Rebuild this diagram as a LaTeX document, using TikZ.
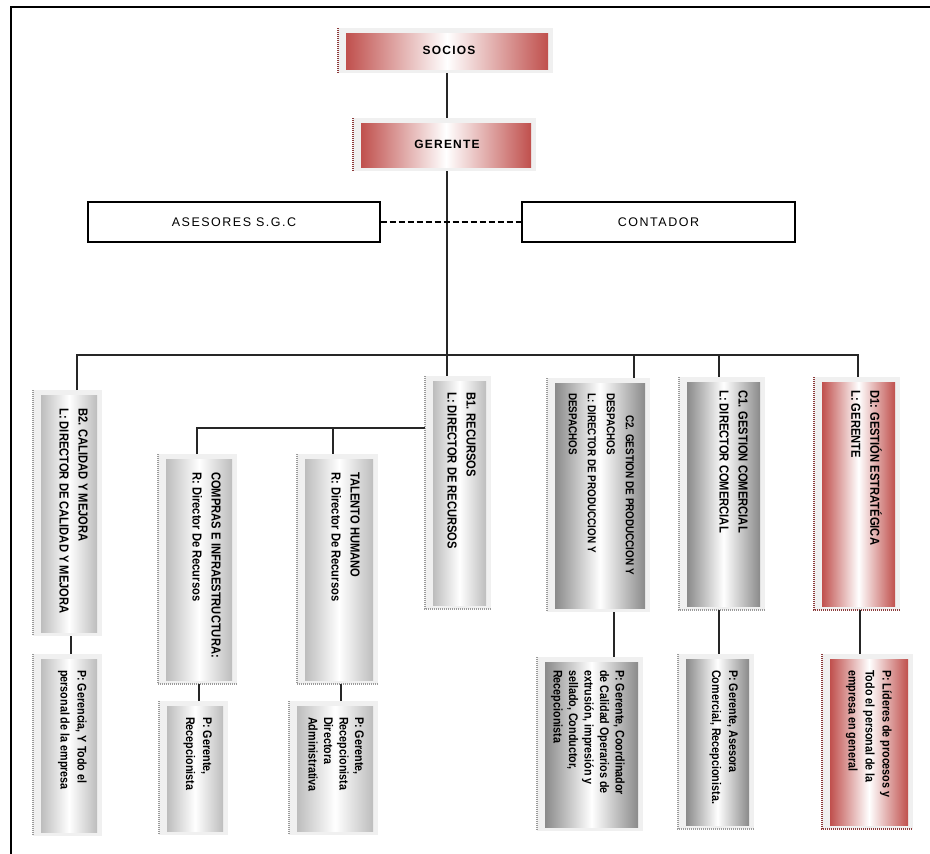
\documentclass[tikz,border=0pt]{standalone}
\usepackage{fontspec}
\setmainfont{Liberation Sans}
\newfontfamily\condfont[FakeStretch=0.86]{Liberation Sans}
\definecolor{boxbg}{HTML}{F0F0F0}
\definecolor{lightedge}{HTML}{BDBDBD}
\definecolor{darkedge}{HTML}{8A8A8A}
\definecolor{rededge}{HTML}{C0504D}
\definecolor{dotgray}{HTML}{9A9A9A}
\definecolor{dotred}{HTML}{8B3A3A}
\tikzset{
  outerbox/.style={fill=boxbg, draw=none, inner sep=0pt, outer sep=0pt},
  lightshade/.style={left color=lightedge, right color=lightedge, middle color=white},
  darkshade/.style={left color=darkedge, right color=darkedge, middle color=white},
  redshade/.style={left color=rededge, right color=rededge, middle color=white},
  dotline/.style={line width=1.1pt, dash pattern=on 1pt off 1pt},
  link/.style={draw=black!85, line width=1.3pt},
  advbox/.style={draw=black, line width=1.2pt, fill=white, inner sep=0pt,
    font=\fontsize{12.5}{14}\selectfont\addfontfeature{LetterSpace=12}},
  toptext/.style={inner sep=0pt, font=\fontsize{12}{14}\selectfont\bfseries\addfontfeature{LetterSpace=10}},
  vtext/.style={rotate=-90, anchor=north west, inner sep=0pt, align=left,
    font=\condfont\fontsize{13}{19}\selectfont\bfseries},
  vtextc/.style={vtext, font=\condfont\fontsize{11.5}{19}\selectfont\bfseries},
  ptext/.style={rotate=-90, anchor=north west, inner sep=0pt, align=left,
    font=\condfont\fontsize{12.5}{17}\selectfont\bfseries},
  ptextc/.style={ptext, font=\condfont\fontsize{12.5}{15.5}\selectfont\bfseries},
}
% name, x1, y1, x2, y2, shading style
\newcommand\orgbox[6]{%
  \node[outerbox, minimum width={#4-#2}, minimum height={#5-#3}] (#1) at ({(#2+#4)/2},{(#3+#5)/2}) {};
  \shade[#6] ([xshift=8pt,yshift=-5pt]#1.north west) rectangle ([xshift=-5pt,yshift=4pt]#1.south east);
}
\newcommand\dotL[2]{\draw[dotline, #2] (#1.north west) -- (#1.south west);}
\newcommand\dotLB[2]{\draw[dotline, #2] (#1.north west) -- (#1.south west) -- (#1.south east);}

\begin{document}
\begin{tikzpicture}[x=1pt, y=-1pt]
\useasboundingbox (0,0) rectangle (930,854);
\fill[white] (0,0) rectangle (930,854);

% page frame
\draw[line width=2pt] (11,854) -- (11,7) -- (930,7);

% junction coordinates
\coordinate (trunk) at (447,355);
\coordinate (busL) at (77,355);
\coordinate (busR) at (858,355);
\coordinate (jc2) at (634,355);
\coordinate (jc1) at (719,355);
\coordinate (sbL) at (197,428);
\coordinate (sbM) at (333,428);
\coordinate (vb2) at (71,0);
\coordinate (vci) at (199,0);
\coordinate (vth) at (341,0);
\coordinate (vc2) at (614,0);
\coordinate (vc1) at (719,0);
\coordinate (vd1) at (860,0);

% top boxes
\orgbox{socios}{338}{28}{553}{73}{redshade}
\dotL{socios}{dotred}
\node[toptext] (sociost) at (449,50) {SOCIOS};
\orgbox{gerente}{353}{118}{536}{171}{redshade}
\dotL{gerente}{dotred}
\node[toptext] (gerentet) at (447,144) {GERENTE};

% advisors
\node[advbox, minimum width=292, minimum height=40] (ases) at (234,222) {ASESORES S.G.C};
\node[advbox, minimum width=273, minimum height=40] (cont) at (658.5,222) {CONTADOR};

% column boxes
\orgbox{b2}{33}{390}{102}{636}{lightshade}
\dotL{b2}{dotgray}
\orgbox{b2p}{33}{654}{102}{836}{lightshade}
\dotL{b2p}{dotgray}
\orgbox{ci}{158}{454}{237}{684}{lightshade}
\dotLB{ci}{dotgray}
\orgbox{cip}{159}{701}{228}{835}{lightshade}
\dotL{cip}{dotgray}
\orgbox{th}{297}{454}{378}{684}{lightshade}
\dotLB{th}{dotgray}
\orgbox{thp}{289}{701}{378}{835}{lightshade}
\dotL{thp}{dotgray}
\orgbox{b1}{425}{376}{491}{609}{lightshade}
\dotLB{b1}{dotgray}
\orgbox{c2}{547}{378}{650}{612}{darkshade}
\dotL{c2}{dotgray}
\orgbox{c2p}{537}{657}{643}{831}{darkshade}
\dotL{c2p}{dotgray}
\orgbox{c1}{679}{377}{765}{610}{darkshade}
\dotLB{c1}{dotgray}
\orgbox{c1p}{678}{654}{754}{829}{darkshade}
\dotLB{c1p}{dotgray}
\orgbox{d1}{814}{377}{900}{610}{redshade}
\dotLB{d1}{dotred}
\orgbox{d1p}{822}{654}{913}{829}{redshade}
\dotLB{d1p}{dotred}

% texts
\node[vtext] (b2t) at (88,408) {B2. CALIDAD Y MEJORA\\L: DIRECTOR DE CALIDAD Y MEJORA};
\node[vtext] (cit) at (221,472) {COMPRAS E INFRAESTRUCTURA:\\R: Director De Recursos};
\node[vtext] (tht) at (360,472) {TALENTO HUMANO\\R: Director De Recursos};
\node[vtext] (b1t) at (476,392) {B1. RECURSOS\\L: DIRECTOR DE RECURSOS};
\node[vtextc] (c2t) at (634,393) {\hspace*{22pt}C2. GESTION DE PRODUCCION Y\\DESPACHOS\\L: DIRECTOR DE PRODUCCION Y\\DESPACHOS};
\node[vtext] (c1t) at (748,390) {C1. GESTION COMERCIAL\\L: DIRECTOR COMERCIAL};
\node[vtext] (d1t) at (882,390) {D1: GESTIÓN ESTRATÉGICA\\L: GERENTE};

\node[ptext] (b2pt) at (87,670) {P: Gerencia, Y Todo el\\personal de la empresa};
\node[ptext] (cipt) at (212,717) {P: Gerente,\\Recepcionista};
\node[ptextc] (thpt) at (364,717) {P: Gerente,\\Recepcionista\\Directora\\Administrativa};
\node[ptextc] (c2pt) at (625,670) {P: Gerente, Coordinador\\de Calidad Operarios de\\extrusión, impresión y\\sellado, Conductor,\\Recepcionista};
\node[ptext] (c1pt) at (738,670) {P: Gerente, Asesora\\Comercial, Recepcionista.};
\node[ptext] (d1pt) at (892,670) {P: Líderes de procesos y\\Todo el personal de la\\empresa en general};

% connectors
\draw[link] (socios.south -| trunk) -- (gerente.north -| trunk);
\draw[link] (gerente.south -| trunk) -- (trunk) -- (b1.north -| trunk);
\draw[line width=2.4pt, dash pattern=on 6pt off 3pt] (ases.east) -- (cont.west);
\draw[link] (b2.north -| busL) -- (busL) -- (busR) -- (d1.north -| busR);
\draw[link] (jc2) -- (c2.north -| jc2);
\draw[link] (jc1) -- (c1.north -| jc1);
\draw[link] (ci.north -| sbL) -- (sbL) -- (b1.west |- sbL);
\draw[link] (sbM) -- (th.north -| sbM);
\draw[link] (b2.south -| vb2) -- (b2p.north -| vb2);
\draw[link] (ci.south -| vci) -- (cip.north -| vci);
\draw[link] (th.south -| vth) -- (thp.north -| vth);
\draw[link] (c2.south -| vc2) -- (c2p.north -| vc2);
\draw[link] (c1.south -| vc1) -- (c1p.north -| vc1);
\draw[link] (d1.south -| vd1) -- (d1p.north -| vd1);
\end{tikzpicture}
\end{document}
